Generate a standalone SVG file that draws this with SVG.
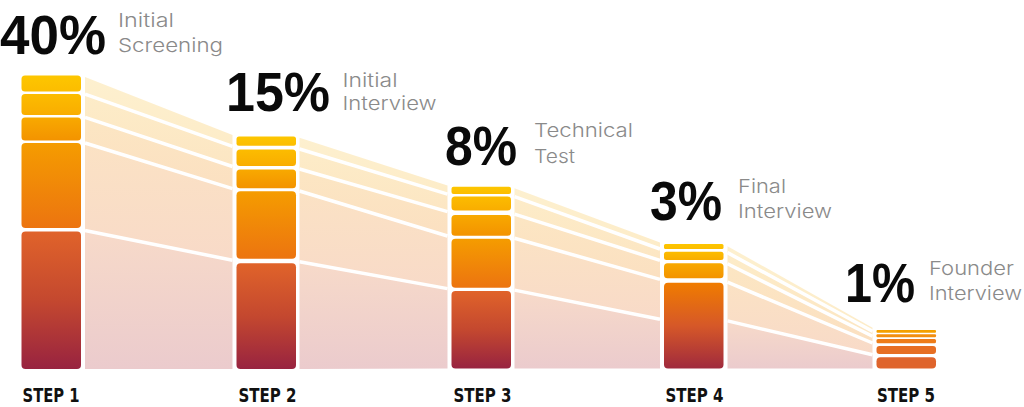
<svg xmlns="http://www.w3.org/2000/svg" width="1024" height="407" viewBox="0 0 1024 407">
<defs>
<style>
.num{font-family:"Liberation Sans",Arial,sans-serif;font-weight:700;font-size:56px;fill:#0a0a0a}
.lab{font-family:Inter,"Noto Sans","Liberation Sans",sans-serif;font-weight:300;font-size:19px;fill:#8a8a8a}
.step{font-family:"DejaVu Sans Condensed","DejaVu Sans","Liberation Sans",sans-serif;font-weight:bold;font-size:20px;fill:#111}
.sep{stroke:#fff;stroke-width:3.5;fill:none;stroke-linecap:butt}
</style>
<linearGradient id="g1" x1="0" y1="0" x2="0" y2="1"><stop offset="0" stop-color="#fdc600"/><stop offset="1" stop-color="#fcbd00"/></linearGradient>
<linearGradient id="g2" x1="0" y1="0" x2="0" y2="1"><stop offset="0" stop-color="#fcbc00"/><stop offset="1" stop-color="#f9ad00"/></linearGradient>
<linearGradient id="g3" x1="0" y1="0" x2="0" y2="1"><stop offset="0" stop-color="#f8a900"/><stop offset="1" stop-color="#f39300"/></linearGradient>
<linearGradient id="g4" x1="0" y1="0" x2="0" y2="1"><stop offset="0" stop-color="#f59c00"/><stop offset="1" stop-color="#ec7410"/></linearGradient>
<linearGradient id="g5" x1="0" y1="0" x2="0" y2="1"><stop offset="0" stop-color="#e0632a"/><stop offset="0.5" stop-color="#c4482f"/><stop offset="1" stop-color="#982340"/></linearGradient>
<linearGradient id="g4b" x1="0" y1="0" x2="0" y2="1"><stop offset="0" stop-color="#f07c00"/><stop offset="0.5" stop-color="#d65828"/><stop offset="1" stop-color="#a02a3d"/></linearGradient>
<linearGradient id="b1" x1="0" y1="0" x2="0" y2="1"><stop offset="0" stop-color="#fdf0cf"/><stop offset="1" stop-color="#fdecc8"/></linearGradient>
<linearGradient id="b2" x1="0" y1="0" x2="0" y2="1"><stop offset="0" stop-color="#fdecc8"/><stop offset="1" stop-color="#fce6c3"/></linearGradient>
<linearGradient id="b3" x1="0" y1="0" x2="0" y2="1"><stop offset="0" stop-color="#fce6c3"/><stop offset="1" stop-color="#fbe0c1"/></linearGradient>
<linearGradient id="b4" x1="0" y1="0" x2="0" y2="1"><stop offset="0" stop-color="#fbe2c4"/><stop offset="1" stop-color="#f8dac8"/></linearGradient>
<linearGradient id="b5" x1="0" y1="0" x2="0" y2="1"><stop offset="0" stop-color="#f7dac9"/><stop offset="1" stop-color="#ebcbcd"/></linearGradient>
</defs>
<rect width="1024" height="407" fill="#fff"/>

<g id="connectors">
<polygon fill="url(#b1)" points="85,76.9 232.5,134.9 232.5,146.4 85,94.2"/>
<polygon fill="url(#b2)" points="85,94.2 232.5,146.4 232.5,166.5 85,117.3"/>
<polygon fill="url(#b3)" points="85,117.3 232.5,166.5 232.5,188.6 85,143"/>
<polygon fill="url(#b4)" points="85,143 232.5,188.6 232.5,260.2 85,230.5"/>
<polygon fill="url(#b5)" points="85,230.5 232.5,260.2 232.5,369 85,369"/>
<path class="sep" d="M85,94.2L232.5,146.4M85,117.3L232.5,166.5M85,143L232.5,188.6M85,230.5L232.5,260.2"/>
<polygon fill="url(#b1)" points="299.5,137.8 447.5,185.4 447.5,194.1 299.5,149"/>
<polygon fill="url(#b2)" points="299.5,149 447.5,194.1 447.5,211.6 299.5,169"/>
<polygon fill="url(#b3)" points="299.5,169 447.5,211.6 447.5,236 299.5,191"/>
<polygon fill="url(#b4)" points="299.5,191 447.5,236 447.5,288.6 299.5,261.7"/>
<polygon fill="url(#b5)" points="299.5,261.7 447.5,288.6 447.5,368.5 299.5,369"/>
<path class="sep" d="M299.5,149L447.5,194.1M299.5,169L447.5,211.6M299.5,191L447.5,236M299.5,261.7L447.5,288.6"/>
<polygon fill="url(#b1)" points="514.5,188.2 660,242.5 660,249 514.5,196.7"/>
<polygon fill="url(#b2)" points="514.5,196.7 660,249 660,260.4 514.5,214.1"/>
<polygon fill="url(#b3)" points="514.5,214.1 660,260.4 660,279.4 514.5,238.3"/>
<polygon fill="url(#b4)" points="514.5,238.3 660,279.4 660,319.2 514.5,290.1"/>
<polygon fill="url(#b5)" points="514.5,290.1 660,319.2 660,368.5 514.5,368.5"/>
<path class="sep" d="M514.5,196.7L660,249M514.5,214.1L660,260.4M514.5,238.3L660,279.4M514.5,290.1L660,319.2"/>
<polygon fill="url(#b1)" points="727.5,246.2 872.5,327.8 872.5,331.3 727.5,252.6"/>
<polygon fill="url(#b2)" points="727.5,252.6 872.5,331.3 872.5,336.2 727.5,263.7"/>
<polygon fill="url(#b3)" points="727.5,263.7 872.5,336.2 872.5,343 727.5,282.2"/>
<polygon fill="url(#b4)" points="727.5,282.2 872.5,343 872.5,354.8 727.5,320.9"/>
<polygon fill="url(#b5)" points="727.5,320.9 872.5,354.8 872.5,368.5 727.5,368.5"/>
<path class="sep" d="M727.5,252.6L872.5,331.3M727.5,263.7L872.5,336.2M727.5,282.2L872.5,343M727.5,320.9L872.5,354.8"/>
</g>

<g id="step1">
<rect x="21.5" y="75.5" width="59.5" height="16" rx="3.5" fill="url(#g1)"/>
<rect x="21.5" y="94" width="59.5" height="21" rx="3.5" fill="url(#g2)"/>
<rect x="21.5" y="117.5" width="59.5" height="23" rx="3.5" fill="url(#g3)"/>
<rect x="21.5" y="143" width="59.5" height="85" rx="4" fill="url(#g4)"/>
<rect x="21.5" y="231.5" width="59.5" height="137.5" rx="4" fill="url(#g5)"/>
<text class="num" x="0" y="54" textLength="106" lengthAdjust="spacingAndGlyphs">40%</text>
<text class="lab" x="118" y="27" textLength="56" lengthAdjust="spacingAndGlyphs">Initial</text>
<text class="lab" x="118" y="51.5" textLength="105" lengthAdjust="spacingAndGlyphs">Screening</text>
<text class="step" x="22.5" y="402" textLength="57" lengthAdjust="spacingAndGlyphs">STEP 1</text>
</g>

<g id="step2">
<rect x="236.5" y="136.5" width="59.5" height="9.3" rx="2.5" fill="url(#g1)"/>
<rect x="236.5" y="149.5" width="59.5" height="16.5" rx="3.5" fill="url(#g2)"/>
<rect x="236.5" y="169.5" width="59.5" height="18.8" rx="3.5" fill="url(#g3)"/>
<rect x="236.5" y="191.3" width="59.5" height="67.5" rx="4" fill="url(#g4)"/>
<rect x="236.5" y="263.3" width="59.5" height="105.7" rx="4" fill="url(#g5)"/>
<text class="num" x="226" y="111" textLength="104" lengthAdjust="spacingAndGlyphs">15%</text>
<text class="lab" x="342.5" y="86.5" textLength="55" lengthAdjust="spacingAndGlyphs">Initial</text>
<text class="lab" x="342.5" y="110" textLength="94" lengthAdjust="spacingAndGlyphs">Interview</text>
<text class="step" x="238.5" y="402" textLength="58" lengthAdjust="spacingAndGlyphs">STEP 2</text>
</g>

<g id="step3">
<rect x="451.5" y="186.7" width="59.5" height="7.3" rx="2" fill="url(#g1)"/>
<rect x="451.5" y="196.5" width="59.5" height="14" rx="3.5" fill="url(#g2)"/>
<rect x="451.5" y="215" width="59.5" height="20.7" rx="3.5" fill="url(#g3)"/>
<rect x="451.5" y="238.7" width="59.5" height="49" rx="4" fill="url(#g4)"/>
<rect x="451.5" y="291" width="59.5" height="77.5" rx="4" fill="url(#g5)"/>
<text class="num" x="445" y="165" textLength="72" lengthAdjust="spacingAndGlyphs">8%</text>
<text class="lab" x="534" y="137" textLength="99" lengthAdjust="spacingAndGlyphs">Technical</text>
<text class="lab" x="534" y="162.5" textLength="41" lengthAdjust="spacingAndGlyphs">Test</text>
<text class="step" x="453.5" y="402" textLength="58" lengthAdjust="spacingAndGlyphs">STEP 3</text>
</g>

<g id="step4">
<rect x="664" y="244" width="59.5" height="5" rx="1.5" fill="url(#g1)"/>
<rect x="664" y="251.7" width="59.5" height="8.3" rx="2.5" fill="url(#g2)"/>
<rect x="664" y="263.3" width="59.5" height="15" rx="3.5" fill="url(#g3)"/>
<rect x="664" y="282.7" width="59.5" height="85.8" rx="4" fill="url(#g4b)"/>
<text class="num" x="650" y="220" textLength="72" lengthAdjust="spacingAndGlyphs">3%</text>
<text class="lab" x="738" y="193" textLength="48" lengthAdjust="spacingAndGlyphs">Final</text>
<text class="lab" x="738" y="218" textLength="94" lengthAdjust="spacingAndGlyphs">Interview</text>
<text class="step" x="665.5" y="402" textLength="58" lengthAdjust="spacingAndGlyphs">STEP 4</text>
</g>

<g id="step5">
<rect x="876.5" y="330" width="59.5" height="2.7" rx="1" fill="#f4a000"/>
<rect x="876.5" y="334.3" width="59.5" height="3" rx="1" fill="#f28e10"/>
<rect x="876.5" y="339" width="59.5" height="4.3" rx="1.5" fill="#ee7c18"/>
<rect x="876.5" y="346" width="59.5" height="8" rx="3" fill="#e76e22"/>
<rect x="876.5" y="357.3" width="59.5" height="11.2" rx="4" fill="#df642c"/>
<text class="num" x="845" y="302" textLength="70" lengthAdjust="spacingAndGlyphs">1%</text>
<text class="lab" x="929" y="275" textLength="85" lengthAdjust="spacingAndGlyphs">Founder</text>
<text class="lab" x="929" y="300" textLength="93" lengthAdjust="spacingAndGlyphs">Interview</text>
<text class="step" x="877" y="402" textLength="58" lengthAdjust="spacingAndGlyphs">STEP 5</text>
</g>
</svg>
